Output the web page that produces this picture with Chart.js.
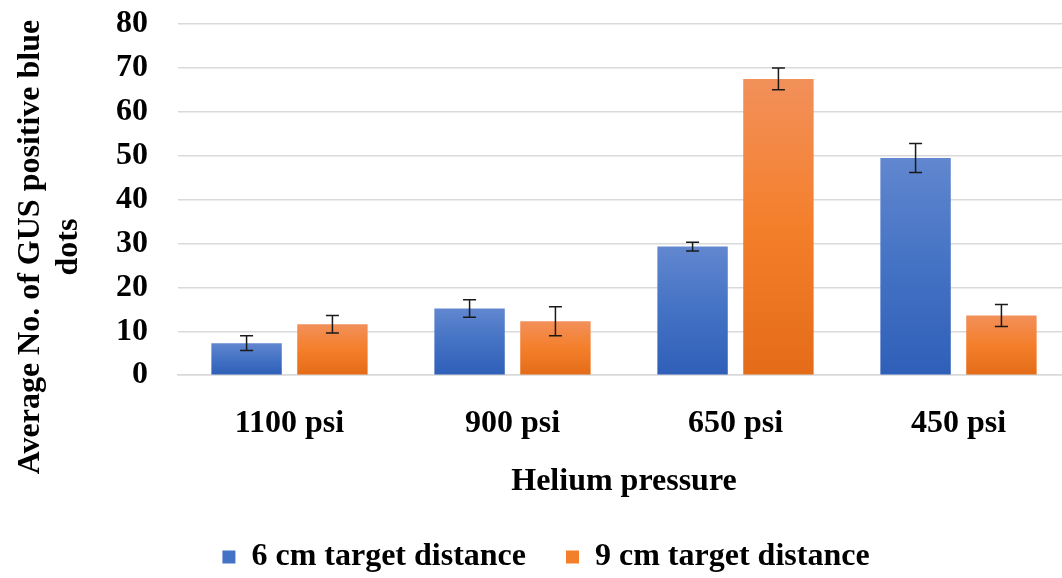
<!DOCTYPE html>
<html>
<head>
<meta charset="utf-8">
<script src="https://cdn.jsdelivr.net/npm/chart.js@4/dist/chart.umd.min.js"></script>
<style>
html,body{margin:0;padding:0;background:#fff;overflow:hidden;}
#wrap{width:1062px;height:578px;position:relative;overflow:hidden;}
</style>
</head>
<body>
<div id="wrap"><canvas id="c" width="1070" height="578"></canvas></div>
<script>
const categories = ['1100 psi', '900 psi', '650 psi', '450 psi'];
const series6cm = [7.3, 15.2, 29.3, 49.5];
const err6cm = [1.7, 2.0, 1.0, 3.3];
const series9cm = [11.6, 12.3, 67.5, 13.6];
const err9cm = [2.0, 3.3, 2.5, 2.5];
const seriesNames = ['6 cm target distance', '9 cm target distance'];
const yTitleLines = ['Average No. of GUS positive blue', 'dots'];
const xTitle = 'Helium pressure';

const FONT = "'Liberation Serif', 'Times New Roman', serif";
const FS = 32;

const gradStops = [
  ['#6187cf', '#4472c4', '#2f5fb8'],
  ['#f2905a', '#f47f2b', '#e46c18']
];

const gradientPlugin = {
  id: 'barGradient',
  beforeDatasetsDraw(chart) {
    const ctx = chart.ctx;
    chart.data.datasets.forEach((ds, di) => {
      const meta = chart.getDatasetMeta(di);
      meta.data.forEach(el => {
        const top = Math.min(el.y, el.base), bot = Math.max(el.y, el.base);
        const g = ctx.createLinearGradient(0, top, 0, bot);
        const s = gradStops[di];
        g.addColorStop(0, s[0]);
        g.addColorStop(0.5, s[1]);
        g.addColorStop(1, s[2]);
        el.options = Object.assign({}, el.options, { backgroundColor: g });
      });
    });
  }
};

const errorPlugin = {
  id: 'errorBars',
  afterDatasetsDraw(chart) {
    const ctx = chart.ctx;
    const y = chart.scales.y;
    const errs = [err6cm, err9cm];
    ctx.save();
    ctx.strokeStyle = '#1a1a1a';
    ctx.lineWidth = 1.5;
    chart.data.datasets.forEach((ds, di) => {
      const meta = chart.getDatasetMeta(di);
      meta.data.forEach((el, i) => {
        const v = ds.data[i], e = errs[di][i];
        const yt = y.getPixelForValue(v + e), yb = y.getPixelForValue(v - e);
        const x = el.x, hw = 6.5;
        ctx.beginPath();
        ctx.moveTo(x, yt); ctx.lineTo(x, yb);
        ctx.moveTo(x - hw, yt); ctx.lineTo(x + hw, yt);
        ctx.moveTo(x - hw, yb); ctx.lineTo(x + hw, yb);
        ctx.stroke();
      });
    });
    ctx.restore();
  }
};

const yTitlePlugin = {
  id: 'yTitle',
  afterDraw(chart) {
    const ctx = chart.ctx;
    ctx.save();
    ctx.translate(31, 247);
    ctx.rotate(-Math.PI / 2);
    ctx.fillStyle = '#000';
    ctx.font = "bold " + FS + "px " + FONT;
    ctx.textAlign = 'center';
    ctx.textBaseline = 'middle';
    ctx.fillText(yTitleLines[0], 0, 0);
    ctx.fillText(yTitleLines[1], 0, 38);
    ctx.restore();
  }
};

new Chart(document.getElementById('c'), {
  type: 'bar',
  data: {
    labels: categories,
    datasets: [
      { label: seriesNames[0], data: series6cm, backgroundColor: '#4472c4', barPercentage: 0.82, categoryPercentage: 0.77 },
      { label: seriesNames[1], data: series9cm, backgroundColor: '#f47f2b', barPercentage: 0.82, categoryPercentage: 0.77 }
    ]
  },
  options: {
    responsive: false,
    animation: false,
    layout: { padding: { left: 22, right: 0, top: 24, bottom: -5 } },
    plugins: {
      legend: {
        position: 'bottom',
        labels: {
          boxWidth: 13, boxHeight: 13,
          padding: 40,
          color: '#000',
          font: { family: FONT, size: FS, weight: 'bold' }
        }
      },
      tooltip: { enabled: false }
    },
    scales: {
      y: {
        min: 0, max: 80,
        afterFit(scale) { scale.width = 156; },
        ticks: { stepSize: 10, autoSkip: false, color: '#000', padding: 0, font: { family: FONT, size: FS, weight: 'bold' } },
        grid: { color: '#d9d9d9', lineWidth: 1.5, drawTicks: true, tickLength: 30, tickColor: 'rgba(0,0,0,0)' },
        border: { display: false }
      },
      x: {
        ticks: { color: '#000', padding: 29, autoSkip: false, maxRotation: 0, font: { family: FONT, size: FS, weight: 'bold' } },
        grid: { display: false, drawTicks: false },
        border: { display: true, color: '#d9d9d9', width: 1.5 },
        title: { display: true, text: xTitle, color: '#000', padding: { top: -9, bottom: 0 }, font: { family: FONT, size: FS, weight: 'bold' } }
      }
    }
  },
  plugins: [gradientPlugin, errorPlugin, yTitlePlugin]
});
</script>
</body>
</html>
